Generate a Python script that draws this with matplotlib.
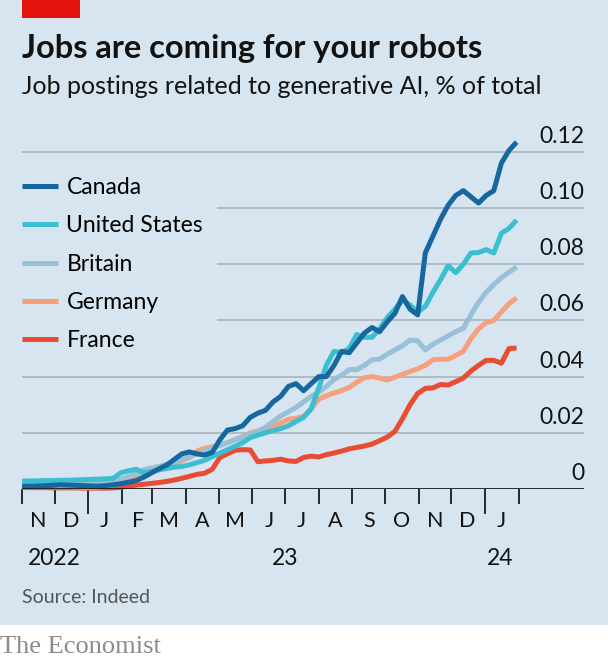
import matplotlib
matplotlib.use("Agg")
import matplotlib.pyplot as plt
import matplotlib.transforms as mtransforms
from matplotlib.patches import Rectangle
import pandas as pd

# weekly readings, from Nov 1st 2022 to end of Jan 2024
weeks = pd.date_range("2022-11-01", periods=66, freq="7D")

canada = [0.0010, 0.0010, 0.0011, 0.0012, 0.0013, 0.0015, 0.0014, 0.0013, 0.0012, 0.0011,
          0.0010, 0.0012, 0.0015, 0.0019, 0.0024, 0.0030, 0.0042, 0.0057, 0.0072, 0.0085,
          0.0105, 0.0125, 0.0132, 0.0125, 0.0121, 0.0130, 0.0175, 0.0210, 0.0215, 0.0225,
          0.0255, 0.0270, 0.0280, 0.0310, 0.0330, 0.0365, 0.0375, 0.0350, 0.0375, 0.0400,
          0.0400, 0.0440, 0.0490, 0.0485, 0.0520, 0.0555, 0.0575, 0.0560, 0.0595, 0.0625,
          0.0685, 0.0640, 0.0620, 0.0840, 0.0900, 0.0960, 0.1010, 0.1045, 0.1062, 0.1040,
          0.1018, 0.1045, 0.1062, 0.1160, 0.1205, 0.1235]
united_states = [0.0028, 0.0029, 0.0029, 0.0030, 0.0030, 0.0031, 0.0031, 0.0032, 0.0033, 0.0034,
                 0.0035, 0.0036, 0.0038, 0.0058, 0.0065, 0.0070, 0.0058, 0.0062, 0.0068, 0.0073,
                 0.0078, 0.0080, 0.0086, 0.0094, 0.0102, 0.0115, 0.0128, 0.0140, 0.0152, 0.0165,
                 0.0183, 0.0192, 0.0200, 0.0208, 0.0215, 0.0225, 0.0240, 0.0255, 0.0285, 0.0360,
                 0.0440, 0.0490, 0.0485, 0.0500, 0.0550, 0.0540, 0.0540, 0.0570, 0.0610, 0.0640,
                 0.0672, 0.0655, 0.0630, 0.0650, 0.0700, 0.0745, 0.0795, 0.0770, 0.0800, 0.0840,
                 0.0842, 0.0852, 0.0840, 0.0910, 0.0928, 0.0957]
britain = [0.0018, 0.0018, 0.0019, 0.0019, 0.0020, 0.0020, 0.0021, 0.0021, 0.0022, 0.0022,
           0.0023, 0.0025, 0.0028, 0.0035, 0.0045, 0.0055, 0.0068, 0.0075, 0.0080, 0.0088,
           0.0095, 0.0105, 0.0115, 0.0125, 0.0135, 0.0145, 0.0155, 0.0165, 0.0175, 0.0185,
           0.0195, 0.0205, 0.0220, 0.0240, 0.0260, 0.0275, 0.0290, 0.0310, 0.0330, 0.0345,
           0.0365, 0.0390, 0.0405, 0.0425, 0.0425, 0.0440, 0.0460, 0.0462, 0.0480, 0.0495,
           0.0510, 0.0530, 0.0528, 0.0495, 0.0515, 0.0530, 0.0545, 0.0560, 0.0572, 0.0620,
           0.0665, 0.0700, 0.0728, 0.0752, 0.0772, 0.0790]
germany = [0.0008, 0.0008, 0.0008, 0.0008, 0.0008, 0.0008, 0.0008, 0.0007, 0.0006, 0.0006,
           0.0007, 0.0009, 0.0015, 0.0022, 0.0035, 0.0050, 0.0060, 0.0068, 0.0075, 0.0085,
           0.0092, 0.0100, 0.0112, 0.0135, 0.0145, 0.0150, 0.0157, 0.0165, 0.0175, 0.0185,
           0.0200, 0.0207, 0.0213, 0.0220, 0.0235, 0.0248, 0.0252, 0.0258, 0.0285, 0.0320,
           0.0332, 0.0342, 0.0350, 0.0362, 0.0380, 0.0396, 0.0400, 0.0395, 0.0388, 0.0398,
           0.0408, 0.0418, 0.0428, 0.0440, 0.0460, 0.0462, 0.0462, 0.0475, 0.0490, 0.0535,
           0.0570, 0.0592, 0.0600, 0.0630, 0.0660, 0.0680]
france = [0.0005, 0.0005, 0.0005, 0.0005, 0.0004, 0.0004, 0.0004, 0.0004, 0.0003, 0.0003,
          0.0003, 0.0003, 0.0004, 0.0006, 0.0010, 0.0014, 0.0017, 0.0020, 0.0023, 0.0027,
          0.0032, 0.0038, 0.0045, 0.0052, 0.0056, 0.0070, 0.0112, 0.0125, 0.0138, 0.0140,
          0.0139, 0.0097, 0.0100, 0.0102, 0.0106, 0.0100, 0.0098, 0.0112, 0.0117, 0.0114,
          0.0122, 0.0128, 0.0135, 0.0143, 0.0148, 0.0153, 0.0160, 0.0172, 0.0185, 0.0205,
          0.0250, 0.0300, 0.0340, 0.0358, 0.0360, 0.0372, 0.0370, 0.0382, 0.0395, 0.0420,
          0.0440, 0.0458, 0.0458, 0.0448, 0.0500, 0.0502]

countries = ["Canada", "United States", "Britain", "Germany", "France"]
series = [canada, united_states, britain, germany, france]
colours = ["#17679e", "#3bbfd0", "#98c0d6", "#f7a07e", "#e84d34"]

y_ticks = [0, 0.02, 0.04, 0.06, 0.08, 0.10, 0.12]
y_labels = ["0", "0.02", "0.04", "0.06", "0.08", "0.10", "0.12"]
month_letters = ["N", "D", "J", "F", "M", "A", "M", "J", "J", "A", "S", "O", "N", "D", "J"]
year_labels = ["2022", "23", "24"]
year_dates = pd.to_datetime(["2022-12-01", "2023-07-01", "2024-01-15"])

bg = "#d6e5ef"
plt.rcParams["font.family"] = ["Lato", "DejaVu Sans"]

fig = plt.figure(figsize=(6.08, 6.62), dpi=100, facecolor=bg)
W, H = 608, 662

# white strip at the bottom and the red tag at the top
fig.patches.append(Rectangle((0, 0), 1, 37 / H, transform=fig.transFigure,
                             facecolor="white", edgecolor="none", zorder=0))
fig.patches.append(Rectangle((22 / W, 1 - 18 / H), 58 / W, 18 / H, transform=fig.transFigure,
                             facecolor="#e3120b", edgecolor="none", zorder=1))

fig.text(22 / W, 1 - 58 / H, "Jobs are coming for your robots", fontsize=23.5,
         fontweight="bold", color="#121212", va="baseline")
fig.text(22 / W, 1 - 94 / H, "Job postings related to generative AI, % of total",
         fontsize=18, color="#121212", va="baseline")
fig.text(22 / W, 1 - 603 / H, "Source: Indeed", fontsize=14, color="#555555", va="baseline")
fig.text(0, 1 - 653 / H, "The Economist", fontsize=19, color="#8a8a8a", va="baseline",
         family="Liberation Serif")

ax = fig.add_axes([22 / W, 173 / H, 562 / W, 359 / H])
ax.set_facecolor("none")
ax.set_xlim(pd.Timestamp("2022-11-01"), pd.Timestamp("2024-04-01"))
ax.set_ylim(0, 0.1278)

for v in y_ticks[1:]:
    ax.axhline(v, color="#a3b0b8", lw=1.1, zorder=0)
ax.axhline(0, color="#1a1a1a", lw=1.3, zorder=6)

label_trans = mtransforms.offset_copy(ax.transData, fig=fig, x=0, y=5, units="dots")
for v, lab in zip(y_ticks, y_labels):
    ax.text(pd.Timestamp("2024-04-01"), v, lab, transform=label_trans, ha="right",
            va="bottom", fontsize=16.5, color="#121212")

# draw back to front so Canada sits on top
for name, vals, c in list(zip(countries, series, colours))[::-1]:
    ax.plot(weeks, vals, color=c, lw=3.6, label=name, solid_capstyle="butt",
            solid_joinstyle="round", clip_on=False, zorder=3)

handles, labels = ax.get_legend_handles_labels()
order = [labels.index(n) for n in countries]
leg = ax.legend([handles[i] for i in order], countries, loc="upper left",
                bbox_to_anchor=(8 / W, 1 - 163 / H), bbox_transform=fig.transFigure,
                frameon=True, facecolor=bg, edgecolor="none", framealpha=1,
                fontsize=16.5, handlelength=1.6, handletextpad=0.35, labelspacing=0.76,
                borderpad=0.6, borderaxespad=0, fancybox=False)
leg.set_zorder(5)

for s in ax.spines.values():
    s.set_visible(False)
ax.set_yticks([])

month_starts = pd.date_range("2022-11-01", "2024-02-01", freq="MS")
jans = [d for d in month_starts if d.month == 1]
others = [d for d in month_starts if d.month != 1]
ax.set_xticks(jans)
ax.set_xticks(others, minor=True)
ax.tick_params(axis="x", which="major", length=18, width=1.3, color="#1a1a1a", labelbottom=False)
ax.tick_params(axis="x", which="minor", length=11, width=1.3, color="#1a1a1a", labelbottom=False)

xt = ax.get_xaxis_transform()
month_trans = mtransforms.offset_copy(xt, fig=fig, x=0, y=-38, units="dots")
mids = month_starts[:-1] + pd.Timedelta(days=15)
for d, letter in zip(mids, month_letters):
    ax.text(d, 0, letter, transform=month_trans, ha="center", va="baseline",
            fontsize=15.5, color="#121212")
year_trans = mtransforms.offset_copy(xt, fig=fig, x=0, y=-76, units="dots")
for d, lab in zip(year_dates, year_labels):
    ax.text(d, 0, lab, transform=year_trans, ha="center", va="baseline",
            fontsize=16.5, color="#121212")

fig.savefig("out.png", dpi=100, facecolor=bg)
